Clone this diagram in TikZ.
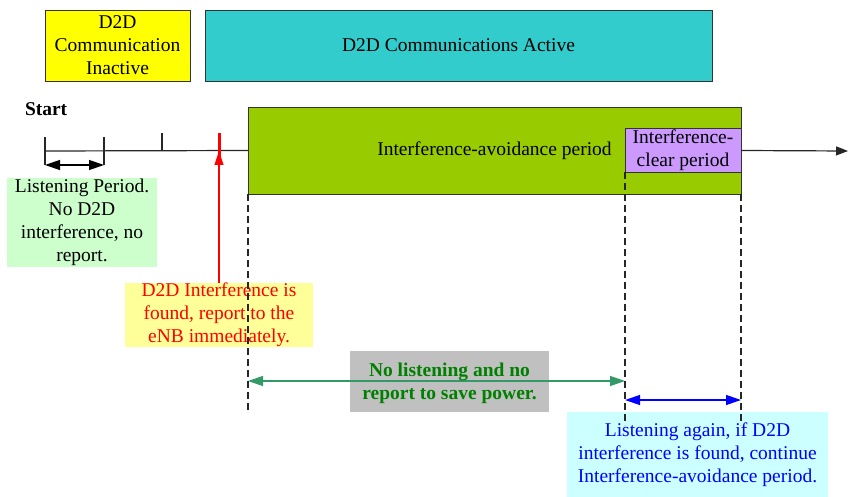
\documentclass[tikz,border=0pt]{standalone}
\usepackage{fontspec}
\setmainfont{Liberation Serif}
\newfontfamily\tms{Liberation Serif}
\usetikzlibrary{arrows.meta}
\definecolor{cYellow}{HTML}{FFFF00}
\definecolor{cTeal}{HTML}{33CCCC}
\definecolor{cGreen}{HTML}{99CC00}
\definecolor{cPurple}{HTML}{CC99FF}
\definecolor{cLGreen}{HTML}{CCFFCC}
\definecolor{cLYellow}{HTML}{FFFF99}
\definecolor{cGray}{HTML}{C0C0C0}
\definecolor{cLCyan}{HTML}{CCFFFF}
\definecolor{cTxtGreen}{HTML}{008000}
\definecolor{cArrGreen}{HTML}{339966}
\begin{document}
\begin{tikzpicture}[x=1pt,y=-1pt,
  every node/.style={font=\tms\fontsize{19.5}{23}\selectfont, inner sep=0pt, outer sep=0pt, align=center},
  bx/.style={draw=black!80, line width=0.9pt, anchor=north west},
  nb/.style={anchor=north west},
  tl/.style={line width=1.2pt, black!85},
  dsh/.style={line width=1.1pt, black!85, dash pattern=on 7pt off 4pt},
  tip/.style={-{Triangle[length=14pt,width=9pt]}},
  dtip/.style={{Triangle[length=15pt,width=10pt]}-{Triangle[length=15pt,width=10pt]}}
]
\useasboundingbox (0,0) rectangle (848,497);

% top phase boxes
\node[bx, fill=cYellow, minimum width=145pt, minimum height=71pt] (inact) at (45,10) {D2D\\Communication\\Inactive};
\node[bx, fill=cTeal, minimum width=507pt, minimum height=71pt] (act) at (205,10) {D2D Communications Active};

\node[anchor=base west, font=\tms\fontsize{19.5}{23}\selectfont\bfseries] (start) at (25,116) {Start};

% periods
\node[bx, fill=cGreen, minimum width=493pt, minimum height=87pt] (iap) at (248,107) {Interference-avoidance period};
\node[bx, fill=cPurple, minimum width=116pt, minimum height=44pt] (icp) at (625,128) {Interference-\\clear period};

% timeline
\coordinate (t0) at (45,151);
\coordinate (tend) at (848,151);
\draw[tl] (t0) -- (iap.west);
\draw[tl, -{Triangle[length=12pt,width=9pt]}] (iap.east) -- (tend);

% ticks
\coordinate (k1a) at (45,137);  \coordinate (k1b) at (45,165);
\coordinate (k2a) at (104,137); \coordinate (k2b) at (104,165);
\coordinate (k3a) at (162,133); \coordinate (k3b) at (162,151);
\coordinate (k4a) at (219,133); \coordinate (k4b) at (219,159);
\draw[tl] (k1a) -- (k1b);
\draw[tl] (k2a) -- (k2b);
\draw[tl] (k3a) -- (k3b);
\draw[line width=3pt, red] (k4a) -- (k4b);

% listening period arrow
\coordinate (lp1) at (45,165);
\coordinate (lp2) at (104,165);
\draw[line width=1.3pt, black, dtip] (lp1) -- (lp2);

% listening period note
\node[nb, fill=cLGreen, minimum width=150pt, minimum height=89pt] (lpnote) at (7,178) {Listening Period.\\No D2D\\interference, no\\report.};

% report note and red arrow
\node[nb, fill=cLYellow, minimum width=188pt, minimum height=62pt, text=red] (rep) at (125,283) {D2D Interference is\\found, report to the\\eNB immediately.};
\coordinate (redtip) at (219,151);
\draw[red, line width=1.1pt, tip] (rep.north) -- (redtip);

% no listening box
\node[nb, fill=cGray, minimum width=199pt, minimum height=61pt] (nolbox) at (350,351) {};
\coordinate (g1) at (248,381);
\coordinate (g2) at (625,381);
\draw[cArrGreen, line width=1.3pt, dtip] (g1) -- (g2);
\node[text=cTxtGreen, font=\tms\fontsize{19.5}{23}\selectfont\bfseries] (noltxt) at ([yshift=-2pt]nolbox.center) {No listening and no\\report to save power.};

% listening again box
\node[nb, fill=cLCyan, minimum width=261pt, minimum height=85pt, text=blue] (again) at (567,412) {Listening again, if D2D\\interference is found, continue\\Interference-avoidance period.};
\coordinate (b1) at (625,400);
\coordinate (b2) at (741,400);
\draw[blue, line width=1.3pt, dtip] (b1) -- (b2);

% dashed guides
\coordinate (d1) at (248,410);
\coordinate (d2) at (625,425);
\coordinate (d3) at (741,425);
\draw[dsh] (iap.south west) -- (d1);
\draw[dsh] (icp.south west) -- (d2);
\draw[dsh] (iap.south east) -- (d3);
\end{tikzpicture}
\end{document}
